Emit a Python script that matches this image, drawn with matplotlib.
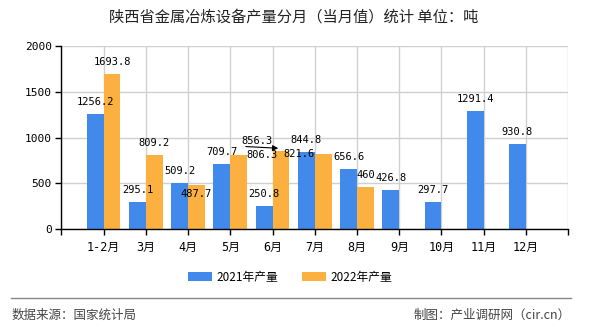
import matplotlib
matplotlib.use('Agg')
import matplotlib.pyplot as plt
import numpy as np

plt.rcParams['font.family'] = ['Noto Sans CJK SC', 'DejaVu Sans']

months = ['1-2月', '3月', '4月', '5月', '6月', '7月', '8月', '9月', '10月', '11月', '12月']
output_2021 = [1256.2, 295.1, 509.2, 709.7, 250.8, 844.8, 656.6, 426.8, 297.7, 1291.4, 930.8]
output_2022 = [1693.8, 809.2, 487.7, 806.3, 856.3, 821.6, 460]
yticks = [0, 500, 1000, 1500, 2000]

blue = '#4189ea'
orange = '#fbb03f'
num_font = ['DejaVu Sans Mono', 'Noto Sans CJK SC']

fig = plt.figure(figsize=(5.9, 3.3), dpi=100)
ax = fig.add_axes([0.104, 0.305, 0.859, 0.556])

x = np.arange(len(months))
w = 0.4
ax.bar(x - w / 2, output_2021, w, color=blue, label='2021年产量', zorder=3)
ax.bar(x[:len(output_2022)] + w / 2, output_2022, w, color=orange, label='2022年产量', zorder=3)

# value labels, some nudged to avoid overlaps (pixel offsets)
shift_2022 = {2: (0, -9), 3: (23, 0), 4: (-24, 10), 5: (-24, 0)}
for i, v in enumerate(output_2021):
    ax.annotate(f'{v:g}', (x[i] - w / 2, v), xytext=(0, 12), textcoords='offset pixels',
                ha='center', va='center', fontsize=7.5, family=num_font, zorder=5)
for i, v in enumerate(output_2022):
    dx, dy = shift_2022.get(i, (0, 12))
    ax.annotate(f'{v:g}', (x[i] + w / 2, v), xytext=(dx, dy), textcoords='offset pixels',
                ha='center', va='center', fontsize=7.5, family=num_font, zorder=5)
# leader arrow for the 6月 label
ax.annotate('', (x[4] + w / 2, output_2022[4] + 26), xytext=(-38, 2), textcoords='offset pixels',
            arrowprops=dict(arrowstyle='-|>', color='black', lw=0.8, mutation_scale=8), zorder=6)

ax.set_xlim(-1, len(months))
ax.set_ylim(0, 2000)
ax.set_xticks(np.arange(-1, len(months) + 1))
ax.set_xticklabels([''] + months + [''], fontsize=8.5, family=num_font)
ax.set_yticks(yticks)
ax.set_yticklabels([str(t) for t in yticks], fontsize=8, family=num_font)
ax.tick_params(axis='x', length=4, pad=4, width=1)
ax.tick_params(axis='y', length=4, pad=3, width=1)
ax.grid(True, color='#d0d0d0', lw=1, zorder=0)
ax.set_axisbelow(True)
for s in ['top', 'right']:
    ax.spines[s].set_visible(False)
for s in ['left', 'bottom']:
    ax.spines[s].set_color('black')
    ax.spines[s].set_linewidth(1)
    ax.spines[s].set_zorder(4)

fig.text(0.497, 0.948, '陕西省金属冶炼设备产量分月（当月值）统计 单位：吨', ha='center', va='center',
         fontsize=11, color='#222222')

fig.legend(loc='center', bbox_to_anchor=(0.492, 0.16), ncol=2, frameon=False, fontsize=8.5,
           handlelength=2.0, handleheight=0.7, columnspacing=2.0, handletextpad=0.4)

fig.add_artist(plt.Line2D([0.019, 0.968], [0.097, 0.097], color='#888888', lw=1))
fig.text(0.019, 0.045, '数据来源：国家统计局', ha='left', va='center', fontsize=9, color='#444444')
fig.text(0.968, 0.045, '制图：产业调研网（cir.cn）', ha='right', va='center', fontsize=9, color='#444444')

fig.savefig('out.png', dpi=100)
